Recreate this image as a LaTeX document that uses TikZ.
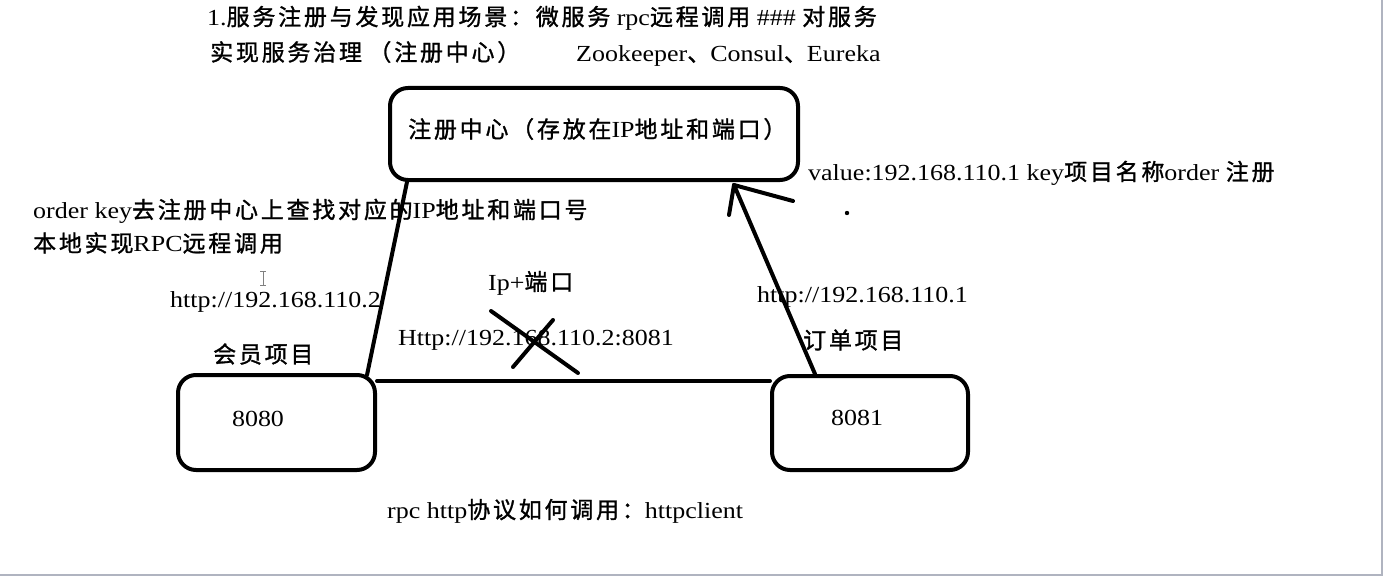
\documentclass[tikz,border=0pt]{standalone}
\usepackage{fontspec}
\setmainfont{Liberation Serif}[FakeStretch=1.13]
\newfontfamily\zh{Noto Sans CJK SC}[LetterSpace=12,FakeBold=1.2]
\tikzset{
  box/.style={draw, line width=4pt, rounded corners=18pt},
  conn/.style={line width=4pt, line cap=round},
  txt/.style={anchor=west, inner sep=0pt, font=\fontsize{23}{26}\selectfont},
  num/.style={txt, anchor=center},
}
\begin{document}
\begin{tikzpicture}[x=1pt,y=-1pt]
\useasboundingbox (0,0) rectangle (1385,578);
\fill[white] (0,0) rectangle (1385,578);
\draw[color={rgb,255:red,176;green,180;blue,192}, line width=1.5pt] (1382,0) -- (1382,575) -- (0,575);

% boxes
\draw[box] (390,88) rectangle (798,180);
\node[txt] (regtxt) at (408,129) {{\zh 注册中心（存放在}IP{\zh 地址和端口）}};
\draw[box] (178,375) rectangle (375,470);
\node[num] (memtxt) at (258,419) {8080};
\draw[box] (772,376) rectangle (968,470);
\node[num] (ordtxt) at (857,418) {8081};

\coordinate (regBL) at (407,182);
\coordinate (memTR) at (367,375);
\coordinate (memR) at (377,381);
\coordinate (ordL) at (770,381);
\coordinate (ordT) at (815,374);
\coordinate (tip) at (734,185);
\coordinate (barbL) at (729,215);
\coordinate (barbR) at (793,201);

\draw[conn] (memTR) -- (regBL);
\draw[conn] (memR) -- (ordL);
\draw[conn] (ordT) -- (tip);
\draw[conn] (tip) -- (barbL);
\draw[conn] (tip) -- (barbR);

% cross
\coordinate (x1a) at (491,311);
\coordinate (x1b) at (578,373);
\coordinate (x2a) at (553,320);
\coordinate (x2b) at (513,367);

% texts
\node[txt] (t1) at (207,18) {1.{\zh 服务注册与发现应用场景：微服务} rpc{\zh 远程调用} \#\#\# {\zh 对服务}};
\node[txt] (t2) at (210,52) {{\zh 实现服务治理}\ {\zh （注册中心）}};
\node[txt] (t3) at (576,56) {Zookeeper{\zh 、}Consul{\zh 、}Eureka};
\node[txt] (t4) at (33,211) {order key{\zh 去注册中心上查找对应的}IP{\zh 地址和端口号}};
\node[txt] (t5) at (33,243) {{\zh 本地实现}RPC{\zh 远程调用}};
\node[txt] (t6) at (170,302) {http://192.168.110.2};
\node[txt] (t7) at (488,283) {Ip+{\zh 端口}};
\node[txt] (t8) at (398,340) {Http://192.168.110.2:8081};
\node[txt] (t9) at (213,354) {\zh 会员项目};
\node[txt] (t10) at (803,340) {\zh 订单项目};
\node[txt] (t11) at (757,297) {http://192.168.110.1};
\node[txt] (t12) at (808,173) {value:192.168.110.1 key{\zh 项目名称}order {\zh 注册}};
\node[txt] (t13) at (387,511) {rpc http{\zh 协议如何调用：}httpclient};

\draw[conn] (x1a) -- (x1b);
\draw[conn] (x2a) -- (x2b);

\fill (847,213) circle (2.2pt);
% text cursor
\draw[gray, line width=0.8pt] (263,271) -- (263,285) (260,271) -- (266,271) (260,285) -- (266,285);
\end{tikzpicture}
\end{document}
